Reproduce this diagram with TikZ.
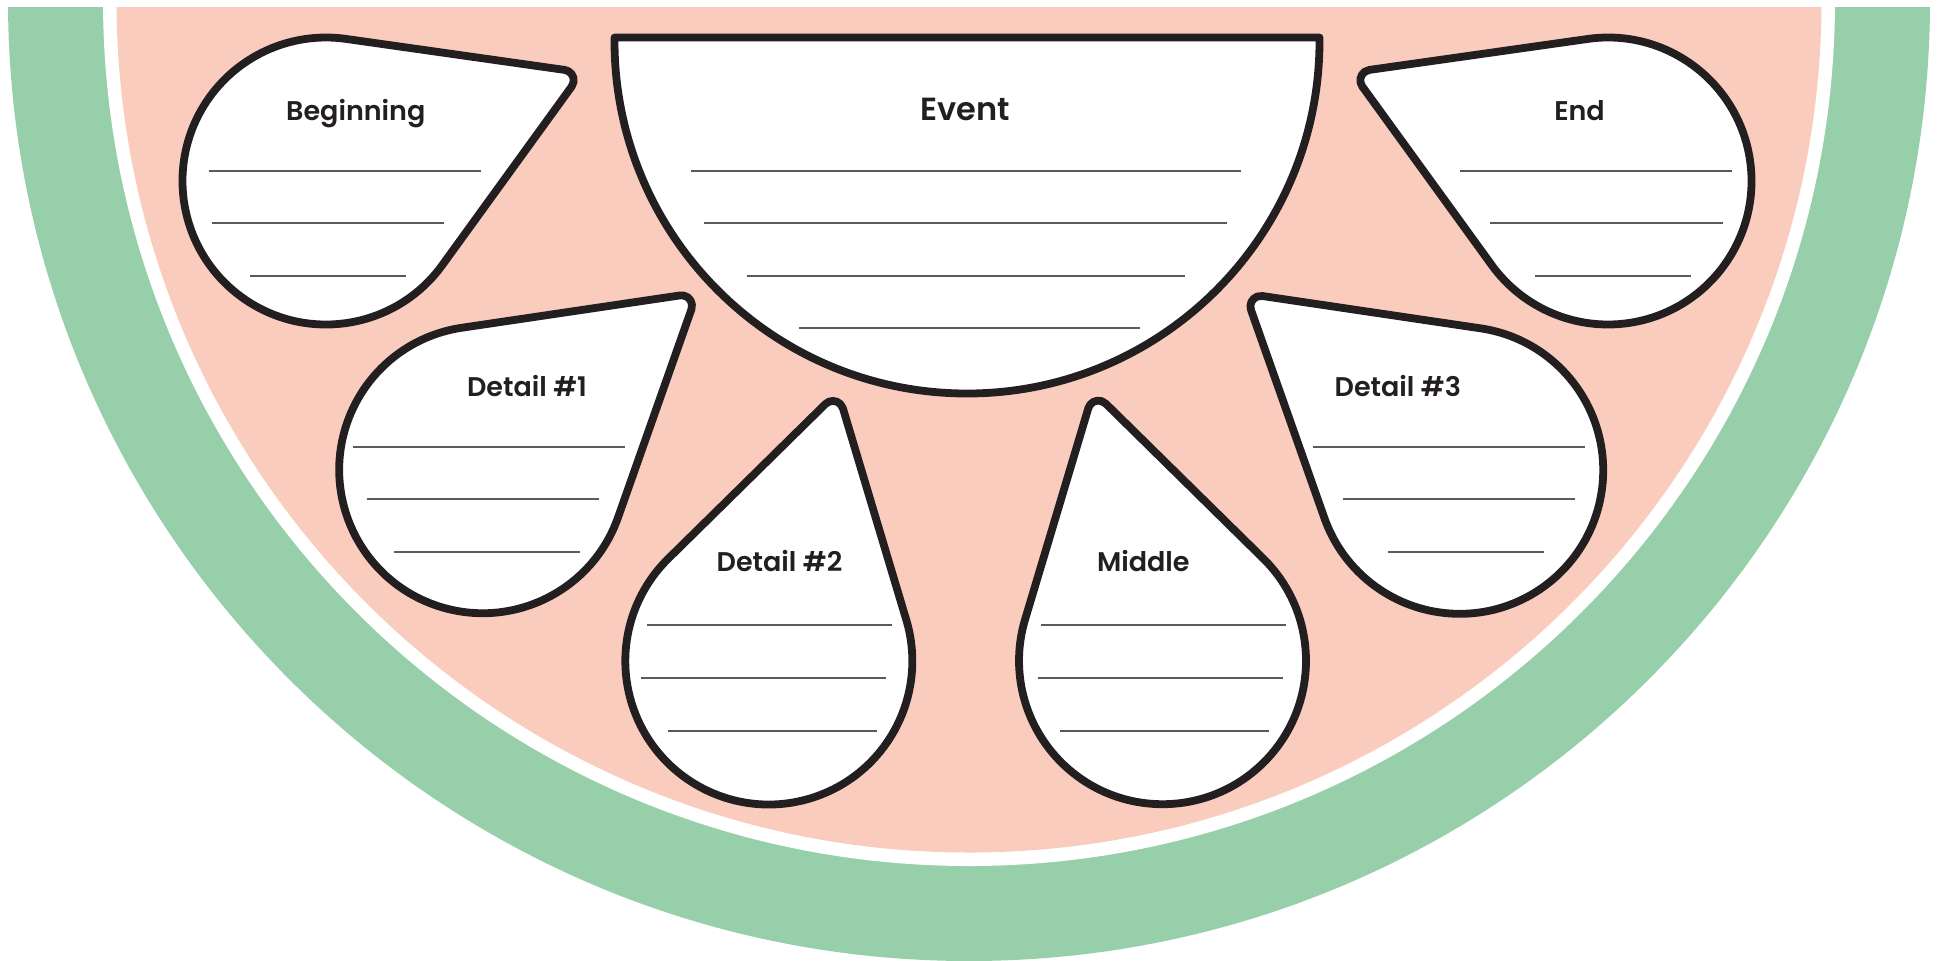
\documentclass[tikz,border=0pt]{standalone}
\usepackage{fontspec}
\setmainfont{Poppins}[BoldFont={Poppins SemiBold}]
\usetikzlibrary{calc}
\definecolor{rindgreen}{HTML}{97CFAA}
\definecolor{fleshpink}{HTML}{FACCBD}
\definecolor{inkdark}{HTML}{231F20}
\definecolor{linegray}{HTML}{5A5A5A}
\tikzset{
  dropbox/.style={draw=inkdark, fill=white, line width=3.9pt, line join=round},
  wline/.style={draw=linegray, line width=0.9pt},
  lbl/.style={text=inkdark, font=\bfseries\fontsize{13.5}{15}\selectfont, anchor=base, inner sep=0pt},
  bigl/.style={text=inkdark, font=\bfseries\fontsize{16}{18}\selectfont, anchor=base, inner sep=0pt}
}
\def\rr{143.5}
\def\rh{10.5}
\def\bt{58.92}
\def\sd{257.7}
\newcommand{\dropshape}[4]{%
  \coordinate (#1) at (#2,#3);
  \coordinate (#1tip) at ($(#1)+(#4:\sd)$);
  \draw[dropbox] ($(#1tip)+(#4+\bt:\rh)$) -- ($(#1)+(#4+\bt:\rr)$)
     arc[start angle={#4+\bt}, end angle={#4+360-\bt}, radius=\rr]
     -- ($(#1tip)+(#4-\bt:\rh)$)
     arc[start angle={#4-\bt}, end angle={#4+\bt}, radius=\rh] -- cycle;
}
\begin{document}
\begin{tikzpicture}[x=0.5pt,y=-0.5pt]
\useasboundingbox (0,0) rectangle (1942,960);
\fill[white] (0,0) rectangle (1942,960);
\begin{scope}
  \clip (0,7) rectangle (1942,960);
  \fill[rindgreen] (969,0) circle[radius=961];
  \fill[white] (969,0) circle[radius=866];
  \fill[fleshpink] (969,0) circle[radius=852.5];
\end{scope}
% Event half disc
\coordinate (ev) at (967,41);
\draw[dropbox] (614.5,37.5) -- (614.5,41) arc[start angle=180, end angle=0, radius=352.5] -- (1319.5,37.5) -- cycle;
\node[bigl] (tEvent) at (965,120) {Event};
\draw[wline] (691,170.7) -- (1240.6,170.7);
\draw[wline] (703.8,222.7) -- (1227.4,222.7);
\draw[wline] (746.7,275.7) -- (1184.9,275.7);
\draw[wline] (799,327.7) -- (1140,327.7);
% drops
\dropshape{beg}{326}{181}{-23}
\dropshape{dA}{482.7}{469.7}{-39.5}
\dropshape{dB}{768.8}{661}{-75.6}
\dropshape{mid}{1162.5}{660.7}{-104.4}
\dropshape{dC}{1459.7}{470.3}{-140.5}
\dropshape{fin}{1608}{181}{-157}
% Beginning
\node[lbl] (tBeg) at (355.8,120) {Beginning};
\draw[wline] (209,170.7) -- (480.7,170.7);
\draw[wline] (211.7,222.7) -- (444,222.7);
\draw[wline] (250,275.7) -- (405.7,275.7);
% End
\node[lbl] (tEnd) at (1579.5,120) {End};
\draw[wline] (1460,170.7) -- (1732.3,170.7);
\draw[wline] (1490,222.7) -- (1722.7,222.7);
\draw[wline] (1535,275.7) -- (1691,275.7);
% Detail 1
\node[lbl] (tD1) at (527,396) {Detail \#1};
\draw[wline] (353.3,446.7) -- (625,446.7);
\draw[wline] (366.7,499.3) -- (599,499.3);
\draw[wline] (394,551.7) -- (580,551.7);
% Detail 3
\node[lbl] (tD3) at (1397.8,396) {Detail \#3};
\draw[wline] (1313.3,446.7) -- (1585,446.7);
\draw[wline] (1343.3,499.3) -- (1575,499.3);
\draw[wline] (1388.3,551.7) -- (1544,551.7);
% Detail 2
\node[lbl] (tD2) at (779.5,571) {Detail \#2};
\draw[wline] (646.7,625) -- (891.7,625);
\draw[wline] (641,678.3) -- (886,678.3);
\draw[wline] (667.7,730.7) -- (877.3,730.7);
% Middle
\node[lbl] (tMid) at (1143.3,571) {Middle};
\draw[wline] (1041,625) -- (1286,625);
\draw[wline] (1038.3,678.3) -- (1283.3,678.3);
\draw[wline] (1060,730.7) -- (1269,730.7);
\end{tikzpicture}
\end{document}
